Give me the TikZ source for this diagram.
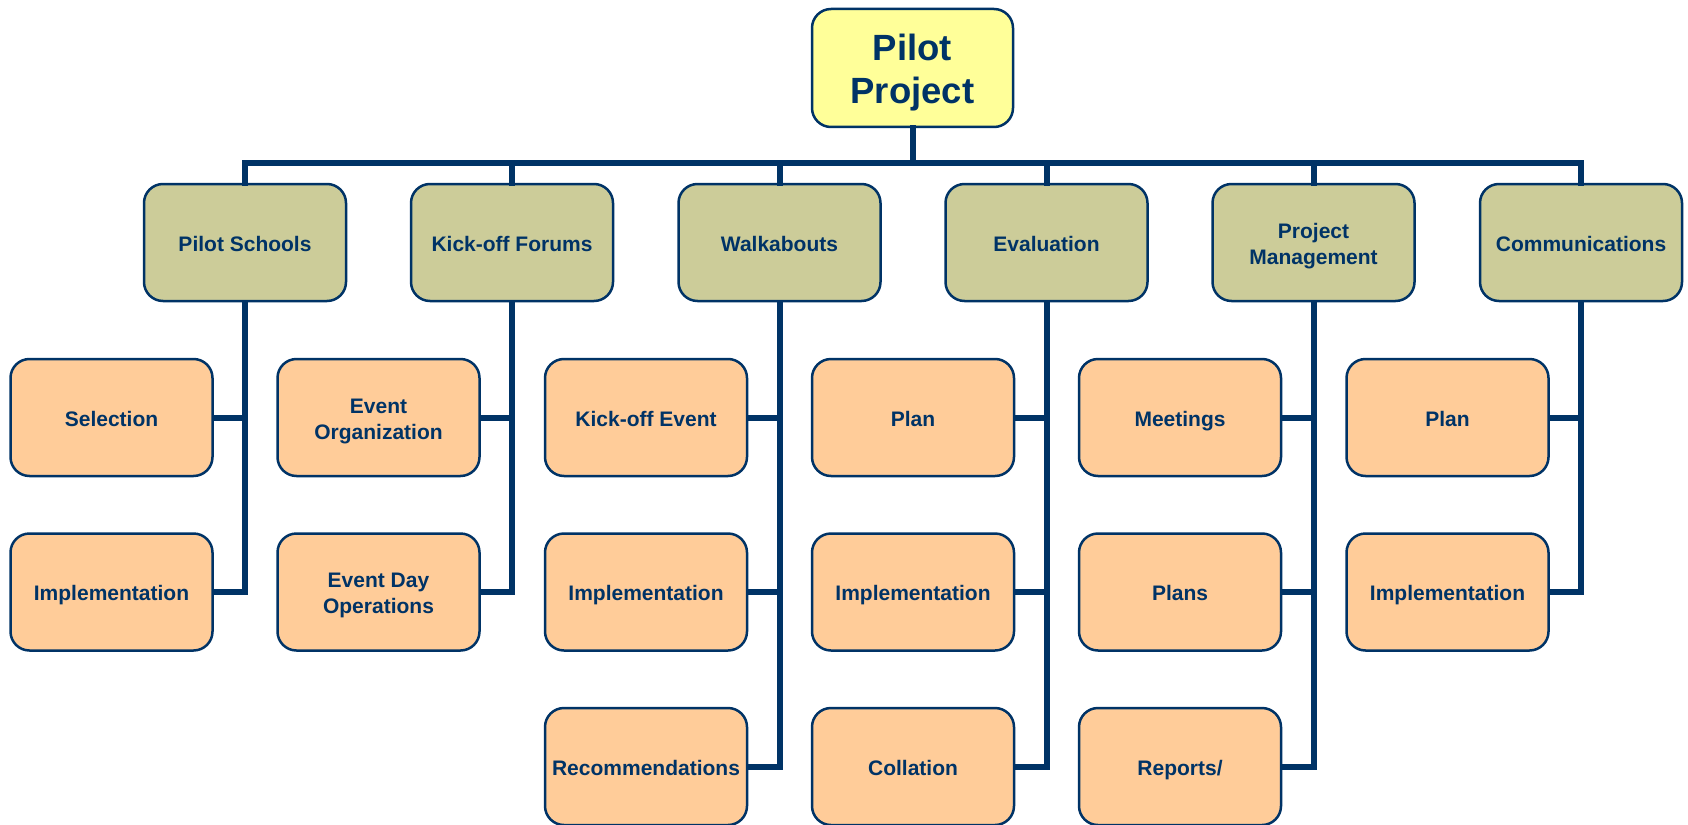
\documentclass[tikz,border=0pt]{standalone}
\usepackage{fontspec}
\setmainfont{Liberation Sans}
\definecolor{navy}{RGB}{0,51,102}
\definecolor{topfill}{RGB}{255,255,153}
\definecolor{midfill}{RGB}{204,204,153}
\definecolor{leaffill}{RGB}{255,204,153}
\newcommand{\smallstrut}{\rule[-6pt]{0pt}{29.6pt}}
\newcommand{\twolines}[2]{\begin{tabular}{@{}c@{}}\rule{0pt}{24.8pt}#1\\#2\end{tabular}}
\newcommand{\toplines}[2]{\begin{tabular}{@{}c@{}}\rule{0pt}{41pt}#1\\#2\end{tabular}}
\tikzset{
  boxbase/.style={draw=navy, line width=2.5pt, rounded corners=19pt, text=navy,
    align=center, inner sep=2pt},
  box/.style={boxbase, minimum width=202pt, minimum height=117pt,
    font=\fontsize{21}{26}\selectfont\bfseries,
    execute at begin node=\smallstrut, execute at end node=\smallstrut},
  topbox/.style={boxbase, fill=topfill, minimum width=201pt, minimum height=118pt,
    font=\fontsize{36.5}{43}\selectfont\bfseries},
  midbox/.style={box, fill=midfill},
  leafbox/.style={box, fill=leaffill},
  conn/.style={draw=navy, line width=6pt, line join=miter, line cap=rect}
}
\begin{document}
\begin{tikzpicture}[x=1pt,y=-1pt]
\useasboundingbox (0,0) rectangle (1688,824);
\coordinate (bus) at (912.5,163);
% nodes
\node[topbox] (top) at (912.5,68) {\toplines{Pilot}{Project}};
\node[midbox] (ps) at (245,242.5) {Pilot Schools};
\node[midbox] (kf) at (512,242.5) {Kick-off Forums};
\node[midbox] (wa) at (779.5,242.5) {Walkabouts};
\node[midbox] (ev) at (1046.5,242.5) {Evaluation};
\node[midbox] (pm) at (1313.5,242.5) {\twolines{Project}{Management}};
\node[midbox] (co) at (1581,242.5) {Communications};

\node[leafbox] (ps1) at (111.5,417.5) {Selection};
\node[leafbox] (ps2) at (111.5,592) {Implementation};
\node[leafbox] (kf1) at (378.5,417.5) {\twolines{Event}{Organization}};
\node[leafbox] (kf2) at (378.5,592) {\twolines{Event Day}{Operations}};
\node[leafbox] (wa1) at (646,417.5) {Kick-off Event};
\node[leafbox] (wa2) at (646,592) {Implementation};
\node[leafbox] (wa3) at (646,766.5) {Recommendations};
\node[leafbox] (ev1) at (913,417.5) {Plan};
\node[leafbox] (ev2) at (913,592) {Implementation};
\node[leafbox] (ev3) at (913,766.5) {Collation};
\node[leafbox] (pm1) at (1180,417.5) {Meetings};
\node[leafbox] (pm2) at (1180,592) {Plans};
\node[leafbox] (pm3) at (1180,766.5) {Reports/};
\node[leafbox] (co1) at (1447.5,417.5) {Plan};
\node[leafbox] (co2) at (1447.5,592) {Implementation};

% connectors
\foreach \m in {ps,kf,wa,ev,pm,co}{
  \draw[conn] (top.south) -- (bus) -| (\m.north);
}
\foreach \m/\c in {ps/ps1,ps/ps2,kf/kf1,kf/kf2,wa/wa1,wa/wa2,wa/wa3,ev/ev1,ev/ev2,ev/ev3,pm/pm1,pm/pm2,pm/pm3,co/co1,co/co2}{
  \draw[conn,line cap=butt] (\m.south) |- (\c.east);
}
\end{tikzpicture}
\end{document}
